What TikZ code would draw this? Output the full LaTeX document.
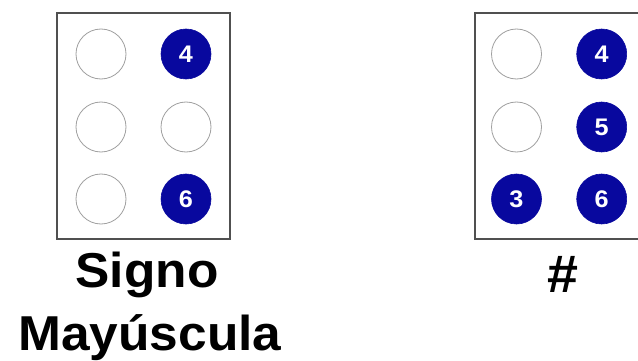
\documentclass[tikz,border=0pt]{standalone}
\usepackage{fontspec}
\setmainfont{Liberation Sans}
\usepackage{graphicx}
\definecolor{dotblue}{RGB}{8,8,158}
\definecolor{framegray}{RGB}{80,80,80}
\definecolor{ringgray}{RGB}{160,160,160}
\newcommand\widetext[1]{\scalebox{1.05}[1]{#1}}
\tikzset{
  cellbox/.style={draw=framegray, line width=1.4pt},
  emptydot/.style={circle, draw=ringgray, line width=0.8pt, minimum size=50pt, inner sep=0pt},
  fulldot/.style={circle, fill=dotblue, draw=dotblue, line width=0.6pt, minimum size=50pt, inner sep=0pt, text=white, font=\fontsize{24}{26}\selectfont\bfseries},
  captext/.style={font=\fontsize{49}{52}\selectfont\bfseries, anchor=base, inner sep=0pt}
}
\begin{document}
\begin{tikzpicture}[x=1pt,y=-1pt]
\clip (0,0) rectangle (638,361);
\fill[white] (0,0) rectangle (638,361);
% left cell
\draw[cellbox] (57,13) rectangle (230,239);
\node[emptydot] (l1) at (101,54) {};
\node[emptydot] (l2) at (101,127) {};
\node[emptydot] (l3) at (101,199) {};
\node[fulldot] (l4) at (186,54) {\widetext{4}};
\node[emptydot] (l5) at (186,127) {};
\node[fulldot] (l6) at (186,199) {\widetext{6}};
\node[captext] (t1) at (147,287) {\widetext{Signo}};
\node[captext] (t2) at (150,350) {\widetext{Mayúscula}};
% right cell
\draw[cellbox] (475,13) rectangle (648,239);
\node[emptydot] (r1) at (516.5,54) {};
\node[emptydot] (r2) at (516.5,127) {};
\node[fulldot] (r3) at (516.5,199) {\widetext{3}};
\node[fulldot] (r4) at (601.7,54) {\widetext{4}};
\node[fulldot] (r5) at (601.7,127) {\widetext{5}};
\node[fulldot] (r6) at (601.7,199) {\widetext{6}};
\node[captext, font=\fontsize{53}{56}\selectfont\bfseries] (t3) at (563,292) {\widetext{\#}};
\end{tikzpicture}
\end{document}
